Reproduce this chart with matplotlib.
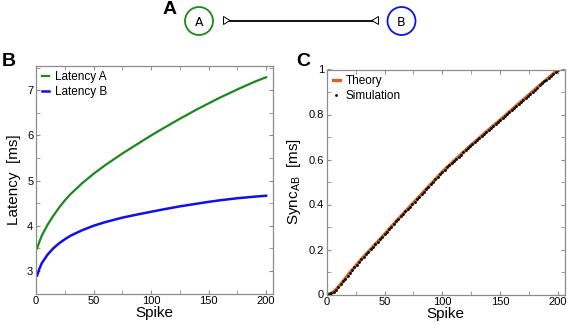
import numpy as np
import matplotlib
matplotlib.use("Agg")
import matplotlib.pyplot as plt
from matplotlib.patches import Circle, Polygon
from matplotlib.ticker import MultipleLocator, FormatStrFormatter

plt.rcParams['font.family'] = ['Liberation Sans', 'DejaVu Sans']

# latency readings (panel B)
lat_spike = [1, 3, 5, 10, 15, 20, 25, 30, 40, 50, 60, 75, 90, 100, 110,
             125, 140, 150, 160, 175, 190, 200]
lat_a = [3.50, 3.65, 3.78, 4.02, 4.22, 4.40, 4.56, 4.70, 4.94, 5.15, 5.34,
         5.60, 5.84, 6.00, 6.15, 6.37, 6.58, 6.71, 6.84, 7.02, 7.19, 7.29]
lat_b = [2.90, 3.05, 3.17, 3.36, 3.50, 3.61, 3.70, 3.78, 3.90, 4.00, 4.08,
         4.18, 4.26, 4.31, 4.36, 4.43, 4.49, 4.53, 4.565, 4.61, 4.645, 4.665]

# sync readings (panel C), every 2nd spike from 0 to 200
sync_spike = list(range(0, 201, 2))
sync_ab = [0.000, 0.002, 0.006, 0.012, 0.022, 0.033, 0.045, 0.058, 0.071, 0.084,
           0.097, 0.109, 0.121, 0.133, 0.145, 0.157, 0.168, 0.179, 0.190, 0.201,
           0.212, 0.223, 0.234, 0.245, 0.256, 0.268, 0.279, 0.291, 0.302, 0.314,
           0.325, 0.336, 0.347, 0.358, 0.369, 0.380, 0.391, 0.402, 0.413, 0.424,
           0.435, 0.446, 0.457, 0.468, 0.479, 0.490, 0.501, 0.512, 0.523, 0.534,
           0.545, 0.555, 0.565, 0.574, 0.584, 0.594, 0.603, 0.613, 0.622, 0.632,
           0.641, 0.651, 0.660, 0.669, 0.678, 0.687, 0.696, 0.705, 0.714, 0.723,
           0.732, 0.741, 0.750, 0.759, 0.767, 0.776, 0.785, 0.794, 0.803, 0.812,
           0.821, 0.830, 0.839, 0.848, 0.857, 0.866, 0.875, 0.884, 0.893, 0.902,
           0.911, 0.920, 0.929, 0.938, 0.947, 0.955, 0.964, 0.973, 0.982, 0.991,
           1.000]

GREEN = '#1a8a1a'
BLUE = '#1010ee'
ORANGE = '#d2662a'
GRAY = '#8c8c8c'


def style_axes(ax):
    for s in ax.spines.values():
        s.set_color(GRAY)
        s.set_linewidth(0.9)
    ax.tick_params(which='both', direction='in', top=True, right=True,
                   color=GRAY, labelsize=8, pad=2)
    ax.tick_params(which='major', length=3)
    ax.tick_params(which='minor', length=3)
    ax.xaxis.set_major_locator(MultipleLocator(50))
    ax.xaxis.set_minor_locator(MultipleLocator(25))
    ax.set_xlim(0, 206)


fig = plt.figure(figsize=(5.67, 3.25), dpi=100)

# diagram on top, in pixel coordinates
top = fig.add_axes([0, 0, 1, 1], zorder=-1)
top.set_xlim(0, 567)
top.set_ylim(325, 0)
top.axis('off')
top.add_patch(Circle((199, 21), 14, fill=False, ec=GREEN, lw=1.3))
top.add_patch(Circle((401.5, 21), 14, fill=False, ec=BLUE, lw=1.3))
top.text(199, 22, 'A', ha='center', va='center', fontsize=9,
         family=['DejaVu Sans'])
top.text(401.5, 22, 'B', ha='center', va='center', fontsize=9,
         family=['DejaVu Sans'])
top.plot([230, 372], [20.5, 20.5], color='black', lw=1.3)
top.add_patch(Polygon([[223.5, 16.5], [223.5, 24.5], [230, 20.5]], closed=True,
                      fill=False, ec='black', lw=0.7))
top.add_patch(Polygon([[378.5, 16.5], [378.5, 24.5], [372, 20.5]], closed=True,
                      fill=False, ec='black', lw=0.7))
fig.text(163 / 567, 1 - 14 / 325, 'A', fontsize=14, fontweight='bold')
fig.text(2 / 567, 1 - 66 / 325, 'B', fontsize=14, fontweight='bold')
fig.text(296 / 567, 1 - 66 / 325, 'C', fontsize=14, fontweight='bold')

# panel B
axb = fig.add_axes([36 / 567, 31.5 / 325, 237 / 567, 228 / 325])
axb.plot(lat_spike, lat_a, color=GREEN, lw=1.6, label='Latency A')
axb.plot(lat_spike, lat_b, color=BLUE, lw=1.8, label='Latency B')
style_axes(axb)
axb.set_ylim(2.5, 7.55)
axb.yaxis.set_major_locator(MultipleLocator(1))
axb.yaxis.set_minor_locator(MultipleLocator(0.5))
axb.set_xlabel('Spike', fontsize=11, labelpad=0)
axb.set_ylabel('Latency  [ms]', fontsize=11, labelpad=4)
axb.legend(loc='upper left', frameon=False, fontsize=8.5, handlelength=0.6,
           handletextpad=0.5, labelspacing=0.2, borderaxespad=0.3,
           borderpad=0.2)

# panel C
axc = fig.add_axes([326.7 / 567, 30.5 / 325, 238.3 / 567, 225 / 325])
axc.plot(sync_spike, sync_ab, color=ORANGE, lw=2.4, label='Theory')
axc.plot(sync_spike, sync_ab, 'o', color='black', ms=2.0, mew=0,
         label='Simulation')
style_axes(axc)
axc.set_ylim(0, 1)
axc.yaxis.set_major_locator(MultipleLocator(0.2))
axc.yaxis.set_minor_locator(MultipleLocator(0.1))
axc.yaxis.set_major_formatter(FormatStrFormatter('%g'))
axc.set_xlabel('Spike', fontsize=11, labelpad=0)
axc.set_ylabel(r'Sync$_\mathregular{AB}$  [ms]', fontsize=11, labelpad=4)
axc.legend(loc='upper left', frameon=False, fontsize=8.5, handlelength=0.6,
           handletextpad=0.5, labelspacing=0.2, borderaxespad=0.3,
           borderpad=0.2, markerscale=1.0)

fig.savefig('out.png', dpi=100)
